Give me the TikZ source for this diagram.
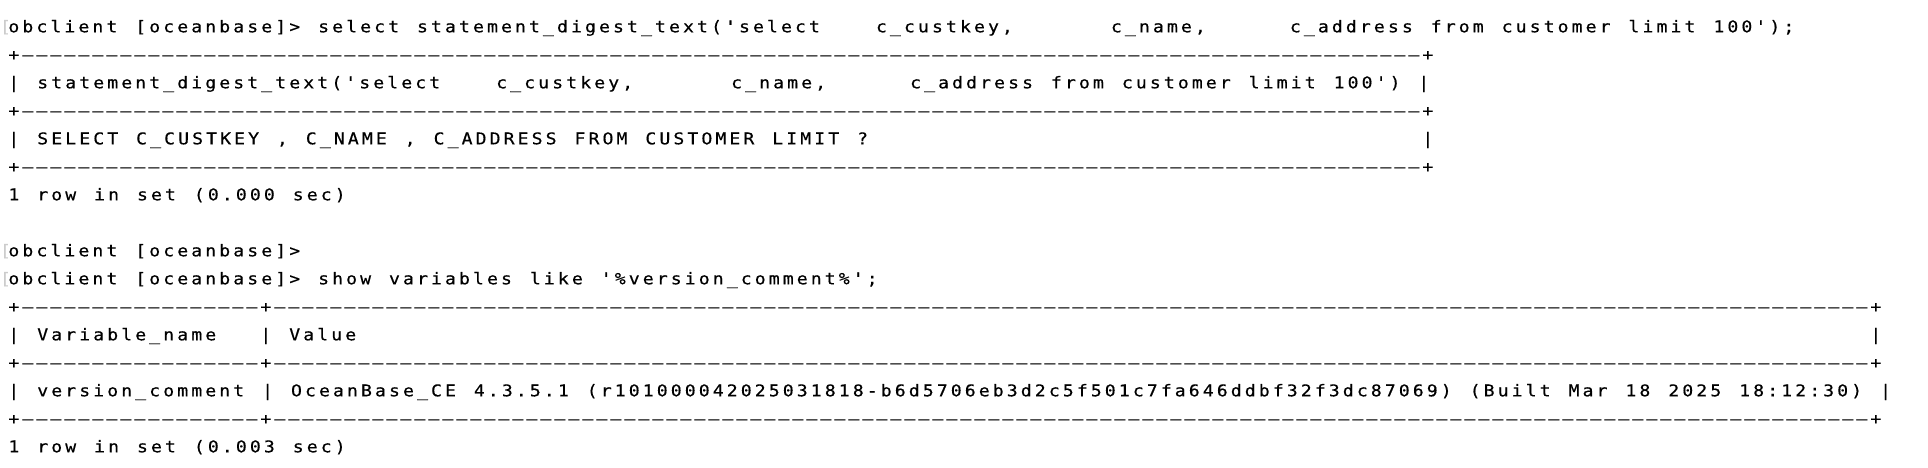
\documentclass[tikz,border=0pt]{standalone}
\usepackage{fontspec}
\setmonofont[FakeStretch=1.12,LetterSpace=19.0,WordSpace=1.2821,FakeBold=0.4]{DejaVu Sans Mono}

\newlength\chw
\setlength\chw{7pt}
\newcommand\blank[1]{\hspace*{#1\chw}}
\newcommand\dashes[1]{\foreach \d in {1,...,#1}{\textendash}}

\tikzset{
    term/.style={anchor=base west,inner sep=0pt,outer sep=0pt,font=\fontsize{8.1}{9}\selectfont\ttfamily},
    gutter/.style={term,text=gray!40}
}

\begin{document}
\begin{tikzpicture}[x=7pt,y=-14pt]

    % white page, 1 unit = one character cell
    \fill[white] (0,0) rectangle (137.714,16.714);
    \useasboundingbox (0,0) rectangle (137.714,16.714);

    \begin{scope}[shift={(0.6,1.154)}]

    % first query
    \node[gutter] (m0) at (-0.6,0) {[};
    \node[term] (l0) at (0,0) {obclient [oceanbase]> select statement\_digest\_text('select\blank{4}c\_custkey,\blank{7}c\_name,\blank{6}c\_address from customer limit 100');};
    \node[term] (l1) at (0,1) {+\dashes{100}+};
    \node[term] (l2) at (0,2) {| statement\_digest\_text('select\blank{4}c\_custkey,\blank{7}c\_name,\blank{6}c\_address from customer limit 100') |};
    \node[term] (l3) at (0,3) {+\dashes{100}+};
    \node[term] (l4) at (0,4) {| SELECT C\_CUSTKEY , C\_NAME , C\_ADDRESS FROM CUSTOMER LIMIT ?};
    \node[term] (l4e) at (101,4) {|};
    \node[term] (l5) at (0,5) {+\dashes{100}+};
    \node[term] (l6) at (0,6) {1 row in set (0.000 sec)};

    % second query
    \node[gutter] (m8) at (-0.6,8) {[};
    \node[term] (l8) at (0,8) {obclient [oceanbase]>};
    \node[gutter] (m9) at (-0.6,9) {[};
    \node[term] (l9) at (0,9) {obclient [oceanbase]> show variables like '\%version\_comment\%';};
    \node[term] (l10) at (0,10) {+\dashes{17}+\dashes{114}+};
    \node[term] (l11) at (0,11) {| Variable\_name};
    \node[term] (l11b) at (18,11) {| Value};
    \node[term] (l11e) at (133,11) {|};
    \node[term] (l12) at (0,12) {+\dashes{17}+\dashes{114}+};
    \node[term] (l13) at (0,13) {| version\_comment | OceanBase\_CE 4.3.5.1 (r101000042025031818-b6d5706eb3d2c5f501c7fa646ddbf32f3dc87069) (Built Mar 18 2025 18:12:30) |};
    \node[term] (l14) at (0,14) {+\dashes{17}+\dashes{114}+};
    \node[term] (l15) at (0,15) {1 row in set (0.003 sec)};

    \end{scope}

\end{tikzpicture}
\end{document}
